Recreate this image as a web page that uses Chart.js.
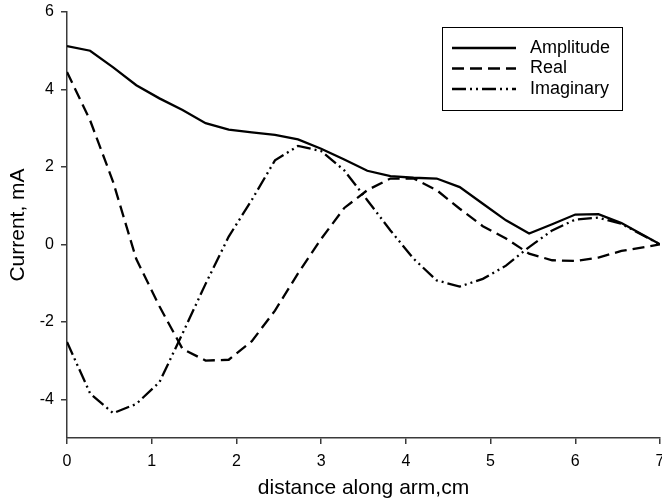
<!DOCTYPE html>
<html><head><meta charset="utf-8">
<script src="https://cdn.jsdelivr.net/npm/chart.js@4"></script>
<style>html,body{margin:0;padding:0;background:#fff}#wrap{width:662px;height:503px}</style>
</head><body><div id="wrap"><canvas id="c" width="662" height="503"></canvas></div>
<script>
const xValues = [0,0.273,0.545,0.818,1.091,1.364,1.636,1.909,2.182,2.455,2.727,3.0,3.273,3.545,3.818,4.091,4.364,4.636,4.909,5.182,5.455,5.727,6.0,6.273,6.545,7];
const amplitude = [5.12,5.0,4.57,4.11,3.77,3.47,3.13,2.96,2.89,2.83,2.71,2.47,2.19,1.9,1.76,1.72,1.70,1.48,1.05,0.62,0.28,0.52,0.77,0.78,0.55,0];
const real = [4.45,3.2,1.61,-0.38,-1.6,-2.7,-3.0,-2.98,-2.5,-1.71,-0.75,0.14,0.94,1.4,1.7,1.7,1.4,0.92,0.47,0.15,-0.24,-0.41,-0.43,-0.34,-0.17,0];
const imaginary = [-2.52,-3.85,-4.36,-4.12,-3.56,-2.3,-1.02,0.2,1.15,2.17,2.54,2.41,1.91,1.14,0.36,-0.37,-0.93,-1.09,-0.89,-0.55,-0.07,0.36,0.64,0.69,0.53,0];
const seriesNames = ['Amplitude','Real','Imaginary'];
const yTicks = [-4,-2,0,2,4,6];
const xTicks = [0,1,2,3,4,5,6,7];

const FONT = '"Liberation Sans", Arial, sans-serif';
const toPts = arr => arr.map((v,i)=>({x:xValues[i], y:v}));

const legendPlugin = {
  id:'boxLegend',
  afterDraw(chart){
    const ctx = chart.ctx;
    const bx = 442, by = 27, bw = 180, bh = 83;
    ctx.save();
    ctx.fillStyle = '#fff';
    ctx.fillRect(bx, by, bw, bh);
    ctx.strokeStyle = '#000'; ctx.lineWidth = 1; ctx.setLineDash([]);
    ctx.strokeRect(bx+0.5, by+0.5, bw, bh);
    chart.data.datasets.forEach((ds,i)=>{
      const y = 48 + i*20.5;
      ctx.beginPath();
      ctx.setLineDash(ds.borderDash || []);
      ctx.lineWidth = ds.borderWidth;
      ctx.strokeStyle = ds.borderColor;
      ctx.moveTo(452, y); ctx.lineTo(516, y); ctx.stroke();
      ctx.setLineDash([]);
      ctx.fillStyle = '#000';
      ctx.font = '18px ' + FONT;
      ctx.textBaseline = 'middle';
      ctx.textAlign = 'left';
      ctx.fillText(ds.label, 530, y);
    });
    ctx.restore();
  }
};

const axisColor = '#3a3a3a';
new Chart(document.getElementById('c'), {
  type:'line',
  data:{
    datasets:[
      {label:seriesNames[0], data:toPts(amplitude), borderColor:'#000', borderWidth:2.3, borderDash:[], pointRadius:0, tension:0, fill:false},
      {label:seriesNames[1], data:toPts(real), borderColor:'#000', borderWidth:2.3, borderDash:[12,6], pointRadius:0, tension:0, fill:false},
      {label:seriesNames[2], data:toPts(imaginary), borderColor:'#000', borderWidth:2.3, borderDash:[14,4,2,4,2,4], pointRadius:0, tension:0, fill:false}
    ]
  },
  options:{
    responsive:false, animation:false, devicePixelRatio:1,
    layout:{padding:{top:12,right:2,left:0,bottom:0}},
    plugins:{legend:{display:false}, tooltip:{enabled:false}},
    scales:{
      x:{
        type:'linear', min:0, max:7,
        afterBuildTicks: s => { s.ticks = xTicks.map(v=>({value:v})); },
        afterFit: s => { s.height = 65; s.paddingLeft = 0; s.paddingRight = 0; },
        grid:{display:true, drawOnChartArea:false, drawTicks:true, tickLength:6, tickColor:axisColor, lineWidth:1.5},
        border:{display:true, color:axisColor, width:1.5},
        ticks:{color:'#000', font:{family:FONT, size:16}, padding:8, maxRotation:0},
        title:{display:true, text:'distance along arm,cm', color:'#000', font:{family:FONT, size:21}, padding:{top:0,bottom:2}}
      },
      y:{
        type:'linear', min:-5, max:6,
        afterBuildTicks: s => { s.ticks = yTicks.map(v=>({value:v})); },
        afterFit: s => { s.width = 67; s.paddingTop = 0; s.paddingBottom = 0; },
        grid:{display:true, drawOnChartArea:false, drawTicks:true, tickLength:6, tickColor:axisColor, lineWidth:1.5},
        border:{display:true, color:axisColor, width:1.5},
        ticks:{color:'#000', font:{family:FONT, size:16}, padding:7},
        title:{display:true, text:'Current, mA', color:'#000', font:{family:FONT, size:21}, padding:{top:6,bottom:0}}
      }
    }
  },
  plugins:[legendPlugin]
});
</script>
</body></html>
